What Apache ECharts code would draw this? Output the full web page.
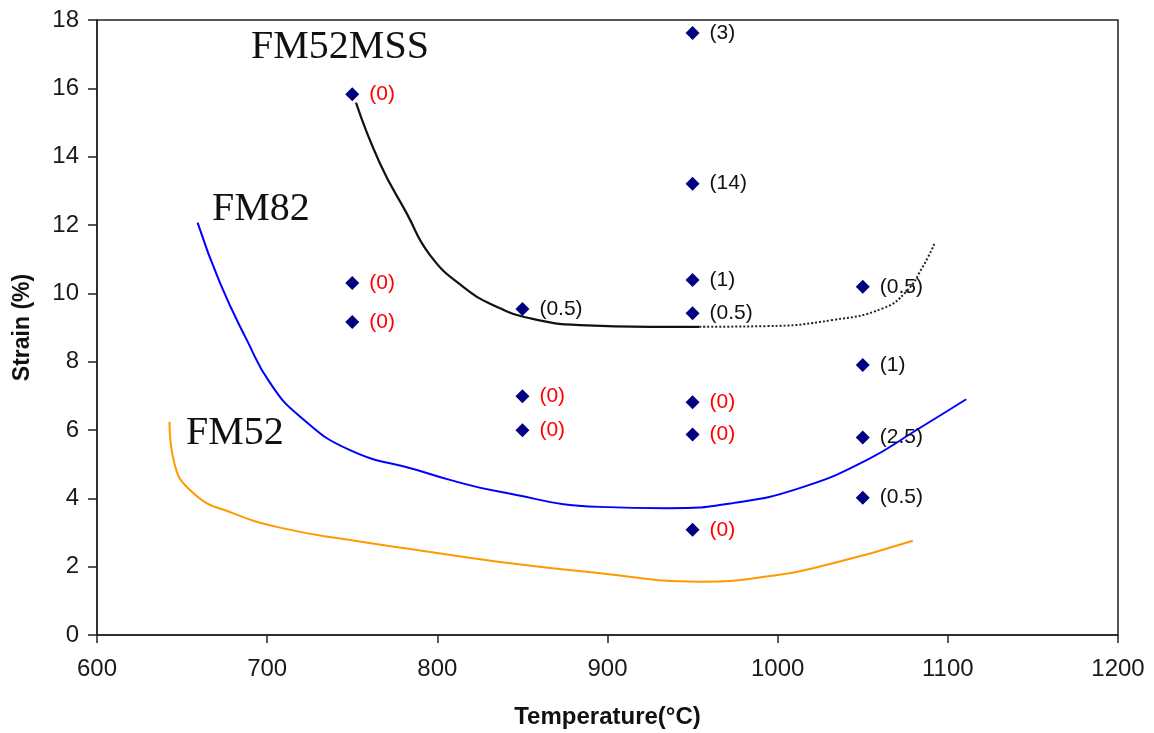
<!DOCTYPE html>
<html>
<head>
<meta charset="utf-8">
<script src="https://cdn.jsdelivr.net/npm/echarts@6/dist/echarts.min.js"></script>
<style>
html,body{margin:0;padding:0;background:#fff;}
#chart{width:1154px;height:733px;}
</style>
</head>
<body>
<div id="chart"></div>
<script>
// Measured test points: temperature (°C), strain (%), and annotation in brackets
const pointTemps   = [750, 750, 750, 850, 850, 850, 950, 950, 950, 950, 950, 950, 950, 1050, 1050, 1050, 1050];
const pointStrains = [15.83, 10.3, 9.16, 9.54, 6.99, 5.99, 17.62, 13.21, 10.39, 9.42, 6.81, 5.87, 3.08, 10.19, 7.9, 5.78, 4.02];
const pointNotes   = ['(0)', '(0)', '(0)', '(0.5)', '(0)', '(0)', '(3)', '(14)', '(1)', '(0.5)', '(0)', '(0)', '(0)', '(0.5)', '(1)', '(2.5)', '(0.5)'];

// FM52MSS curve (solid part and dotted extrapolation)
const fm52mssTemps   = [752.2, 766.3, 782.0, 795.7, 815.2, 834.8, 854.4, 883.8, 925, 954];
const fm52mssStrains = [15.58, 13.80, 12.34, 11.12, 10.19, 9.61, 9.27, 9.07, 9.02, 9.02];
const fm52mssDotTemps   = [954, 993.4, 1032.5, 1061.8, 1075.5, 1085.3, 1092.2];
const fm52mssDotStrains = [9.02, 9.04, 9.22, 9.56, 10.05, 10.78, 11.46];

// FM82 curve
const fm82Temps   = [659.1, 672.4, 688.1, 701.8, 719.4, 748.7, 788.0, 807.4, 836.8, 895.5, 934.8, 973.6, 1012.9, 1052.3, 1081.6, 1110.8];
const fm82Strains = [12.07, 10.29, 8.63, 7.37, 6.39, 5.41, 4.83, 4.54, 4.19, 3.75, 3.71, 3.86, 4.30, 5.12, 6.0, 6.90];

// FM52 curve
const fm52Temps   = [642.6, 645.0, 656.7, 680.2, 709.6, 748.7, 787.9, 836.8, 895.5, 954.2, 993.4, 1032.5, 1079.4];
const fm52Strains = [6.24, 5.12, 4.15, 3.56, 3.12, 2.78, 2.49, 2.14, 1.81, 1.56, 1.71, 2.10, 2.76];

// Axis ticks
const xTicks = [600, 700, 800, 900, 1000, 1100, 1200];
const yTicks = [0, 2, 4, 6, 8, 10, 12, 14, 16, 18];

const zip = (a, b) => a.map((v, i) => [v, b[i]]);

const chart = echarts.init(document.getElementById('chart'), null, {renderer: 'canvas'});
const sans = 'Liberation Sans, Arial, sans-serif';
const serif = 'Liberation Serif, Times New Roman, serif';

const curveBase = {type: 'line', smooth: 0.5, symbol: 'none', z: 2, silent: true};

const option = {
  backgroundColor: '#ffffff',
  animation: false,
  grid: {left: 97, right: 36, top: 20, bottom: 98, containLabel: false, outerBoundsMode: 'none',
         show: true, borderColor: '#222', borderWidth: 1.5, backgroundColor: 'transparent'},
  xAxis: {
    type: 'value', min: xTicks[0], max: xTicks[xTicks.length - 1], interval: 100,
    name: 'Temperature(°C)', nameLocation: 'middle', nameGap: 70,
    nameTextStyle: {fontFamily: sans, fontWeight: 'bold', fontSize: 24, color: '#111'},
    axisLine: {show: true, lineStyle: {color: '#222', width: 1.5}},
    axisTick: {show: true, inside: false, length: 8, lineStyle: {color: '#222', width: 1.5}},
    axisLabel: {fontFamily: sans, fontSize: 24, color: '#1a1a1a', margin: 22, formatter: v => String(v)},
    splitLine: {show: false}
  },
  yAxis: {
    type: 'value', min: yTicks[0], max: yTicks[yTicks.length - 1], interval: 2,
    name: 'Strain (%)', nameLocation: 'middle', nameGap: 63, nameRotate: 90,
    nameTextStyle: {fontFamily: sans, fontWeight: 'bold', fontSize: 23, color: '#111'},
    axisLine: {show: true, lineStyle: {color: '#222', width: 1.5}},
    axisTick: {show: true, inside: false, length: 9, lineStyle: {color: '#222', width: 1.5}},
    axisLabel: {fontFamily: sans, fontSize: 24, color: '#1a1a1a', margin: 18, formatter: v => String(v)},
    splitLine: {show: false}
  },
  series: [
    Object.assign({}, curveBase, {data: zip(fm52Temps, fm52Strains), lineStyle: {color: '#ff9900', width: 2}}),
    Object.assign({}, curveBase, {data: zip(fm82Temps, fm82Strains), lineStyle: {color: '#0000ff', width: 2}}),
    Object.assign({}, curveBase, {data: zip(fm52mssTemps, fm52mssStrains), lineStyle: {color: '#111111', width: 2.2}}),
    Object.assign({}, curveBase, {data: zip(fm52mssDotTemps, fm52mssDotStrains), lineStyle: {color: '#222222', width: 2, type: [2, 2]}}),
    {
      type: 'scatter', symbol: 'diamond', symbolSize: 14,
      itemStyle: {color: '#000080', opacity: 1},
      data: pointTemps.map((t, i) => ({value: [t, pointStrains[i]], note: pointNotes[i]})),
      label: {
        show: true, position: 'right', distance: 10,
        fontFamily: sans, fontSize: 21,
        formatter: p => p.data.note,
        color: '#111'
      },
      z: 5
    }
  ],
  graphic: [
    {type: 'text', left: 251, top: 27, style: {text: 'FM52MSS', font: '40px ' + serif, fill: '#111'}},
    {type: 'text', left: 212, top: 189, style: {text: 'FM82', font: '40px ' + serif, fill: '#111'}},
    {type: 'text', left: 186, top: 413, style: {text: 'FM52', font: '40px ' + serif, fill: '#111'}}
  ]
};

// red labels for zero-crack points
option.series[4].data.forEach(d => {
  if (d.note === '(0)') d.label = {color: '#ff0000'};
});

chart.setOption(option);
</script>
</body>
</html>
